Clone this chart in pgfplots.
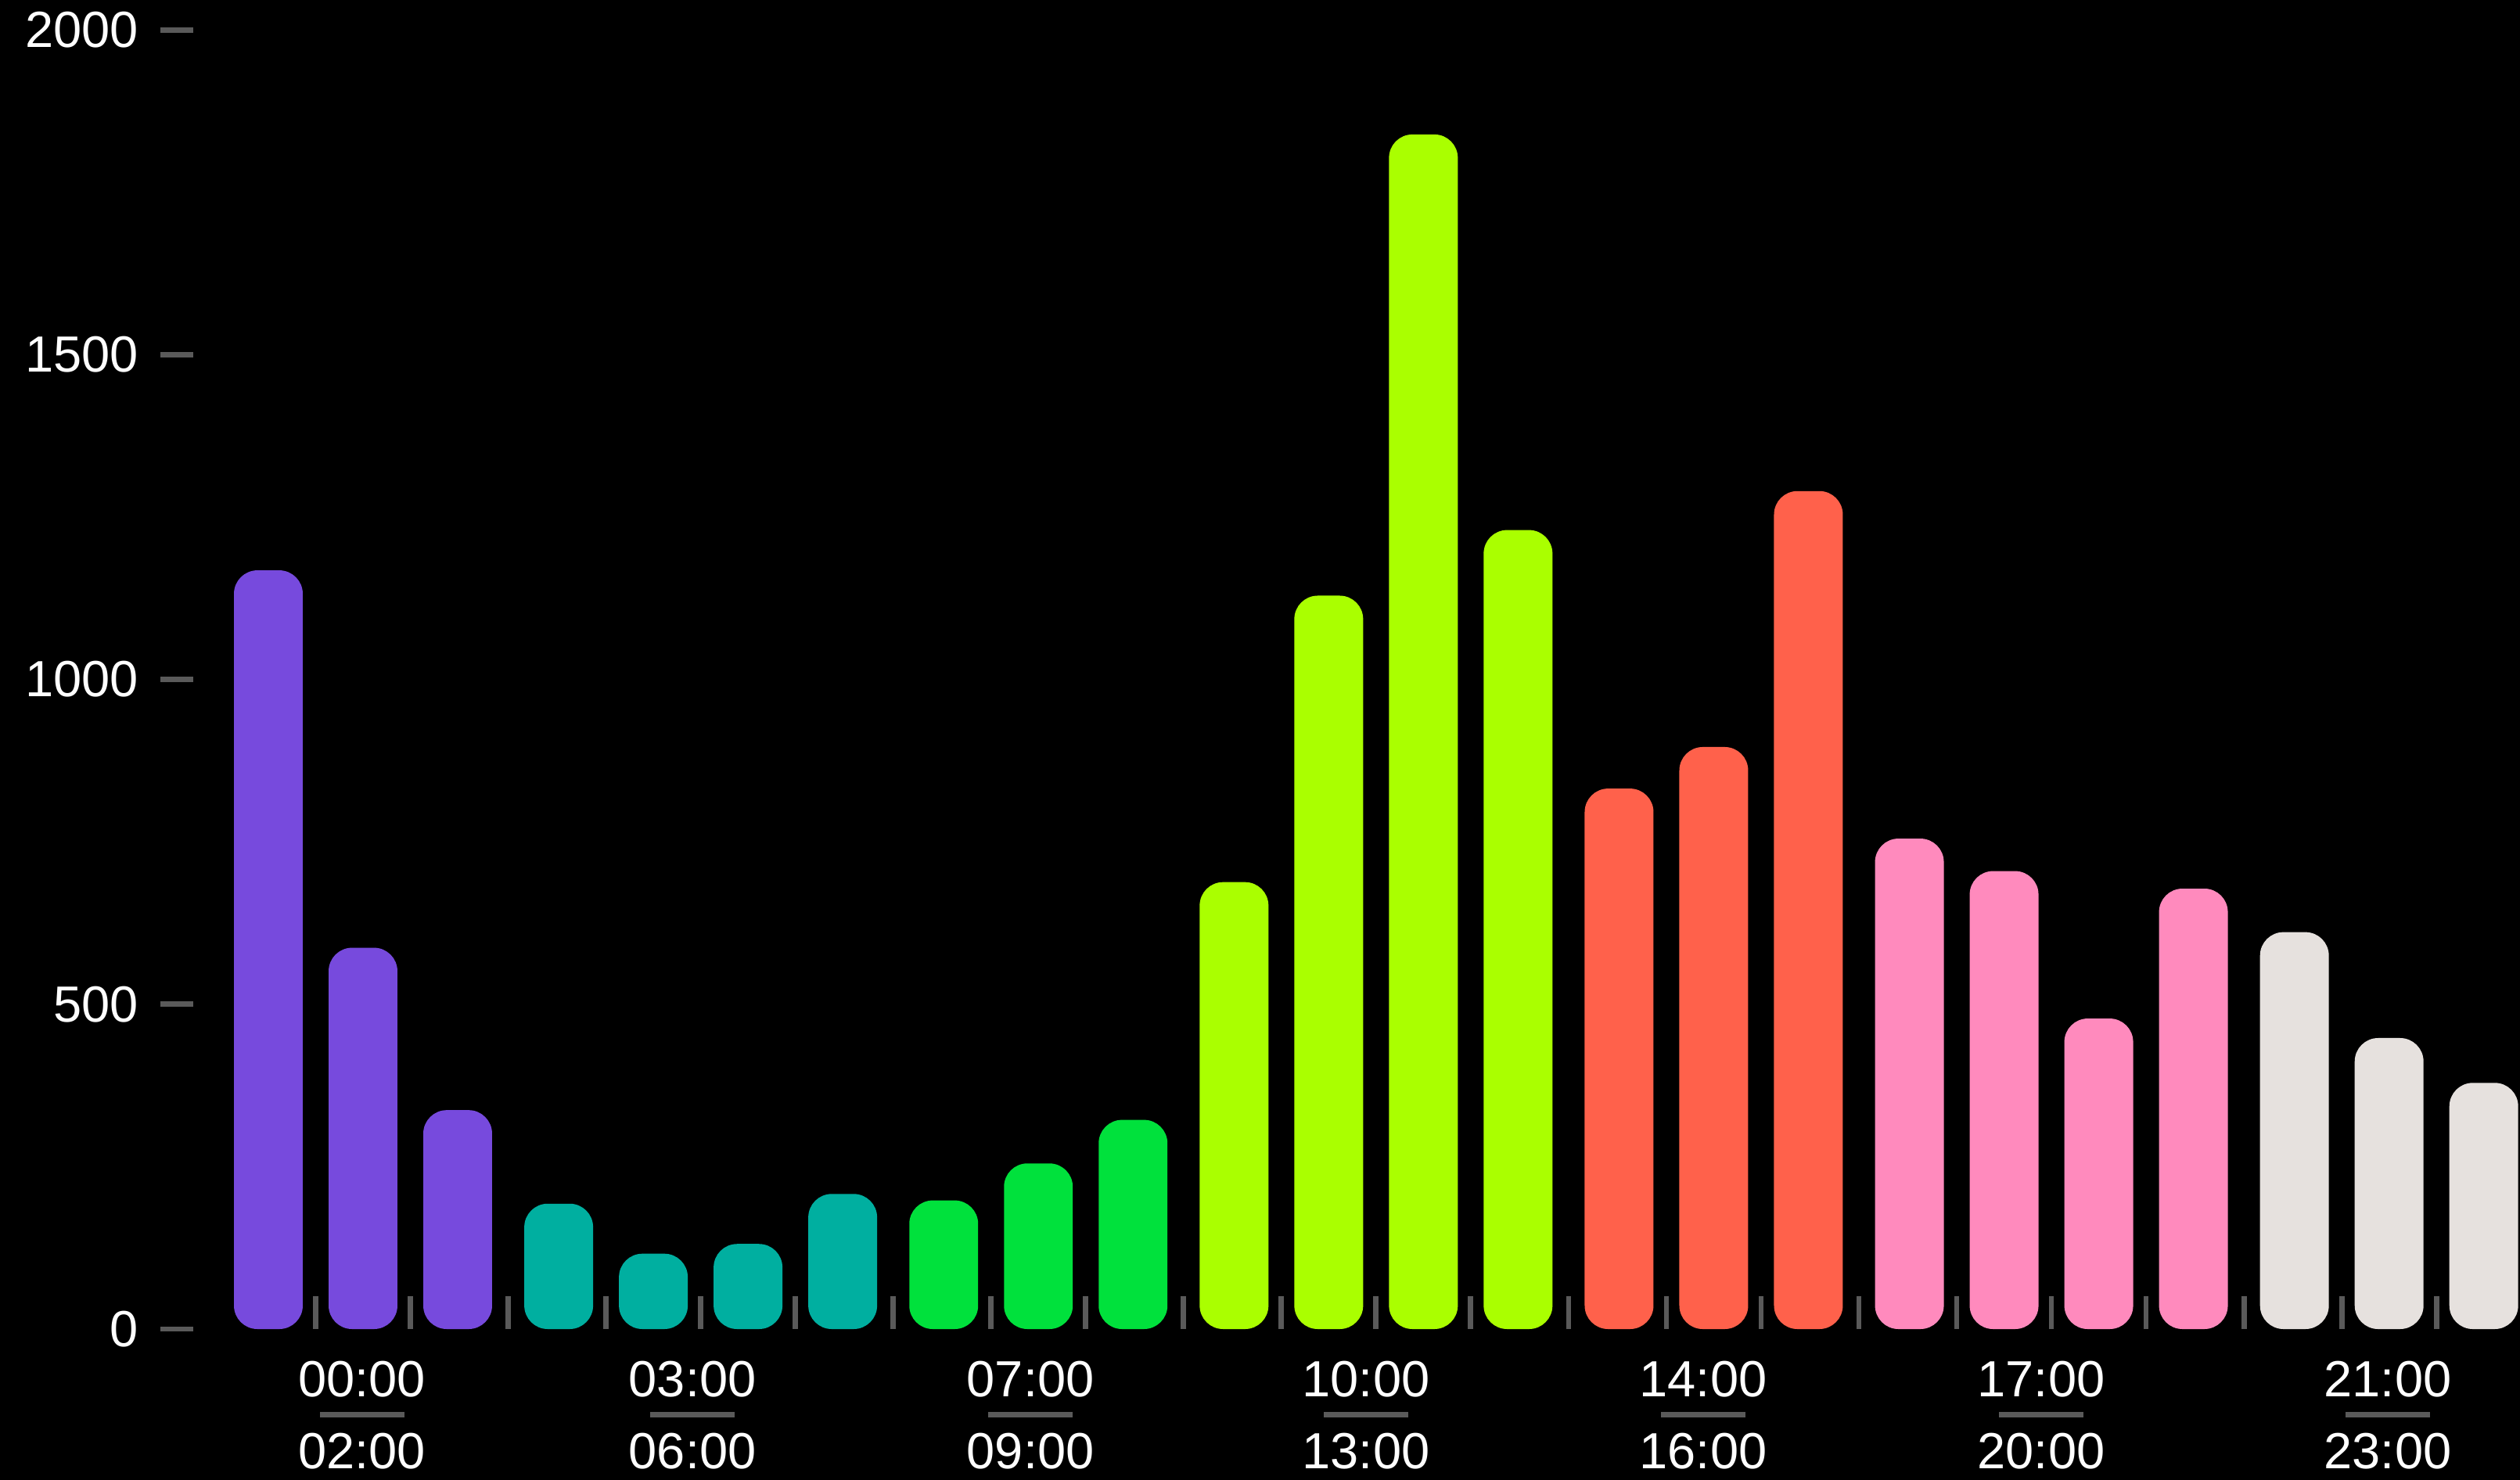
\documentclass[border=0pt]{standalone}
\usepackage{fontspec}
\setmainfont{Liberation Sans}
\usepackage{pgfplots}
\pgfplotsset{compat=1.18}
\definecolor{cPurple}{HTML}{774ADD}
\definecolor{cTeal}{HTML}{00AFA0}
\definecolor{cGreen}{HTML}{00E13C}
\definecolor{cLime}{HTML}{AAFF00}
\definecolor{cRed}{HTML}{FF614B}
\definecolor{cPink}{HTML}{FF8ABD}
\definecolor{cLight}{HTML}{E6E1DE}
\definecolor{sepgray}{HTML}{5A5A5A}
\newcommand{\lblfont}{\fontsize{13}{15}\selectfont}
\newcommand{\grouplabel}[3]{%
  \node[anchor=base, text=white, font=\lblfont] at ([yshift=-17.2pt]axis cs:#1,0) {#2};
  \draw[sepgray, line width=1.4pt] ([xshift=-10.8pt,yshift=-21.8pt]axis cs:#1,0) -- ([xshift=10.8pt,yshift=-21.8pt]axis cs:#1,0);
  \node[anchor=base, text=white, font=\lblfont] at ([yshift=-35.6pt]axis cs:#1,0) {#3};
}
\begin{document}
\begin{tikzpicture}
\fill[black] (-44pt,-41pt) rectangle (606pt,342pt);
\begin{axis}[
  at={(0,0)}, anchor=south west,
  scale only axis, width=603.2pt, height=339.8pt,
  xmin=-1.1405, xmax=23.785, ymin=0, ymax=2046,
  axis line style={draw=none},
  tick align=inside,
  major tick length=8.4pt,
  xtick={0.5,1.5,2.5335,3.567,4.567,5.567,6.6005,7.634,8.634,9.6675,10.701,11.701,12.701,13.7345,14.768,15.768,16.8015,17.835,18.835,19.835,20.8685,21.902,22.902},
  xticklabels={},
  ytick={0,500,1000,1500,2000},
  tick pos=left,
  tick style={sepgray, line width=1.35pt},
  yticklabel style={font=\lblfont, text=white, inner sep=0pt, xshift=-5.4pt},
  /pgf/number format/assume math mode=true,
  /pgf/number format/1000 sep={},
  clip=false,
  every axis plot/.append style={ybar, bar width=0.727, bar shift=0pt, draw=none, rounded corners=6pt},
]
\addplot[fill=cPurple] coordinates {(0,1168) (1,587) (2,337)};
\addplot[fill=cTeal] coordinates {(3.067,193) (4.067,116) (5.067,131) (6.067,208)};
\addplot[fill=cGreen] coordinates {(7.134,198) (8.134,255) (9.134,322)};
\addplot[fill=cLime] coordinates {(10.201,688) (11.201,1129) (12.201,1839) (13.201,1230)};
\addplot[fill=cRed] coordinates {(14.268,832) (15.268,896) (16.268,1290)};
\addplot[fill=cPink] coordinates {(17.335,755) (18.335,705) (19.335,478) (20.335,678)};
\addplot[fill=cLight] coordinates {(21.402,611) (22.402,448) (23.402,379)};

\grouplabel{0.99}{00:00}{02:00}
\grouplabel{4.48}{03:00}{06:00}
\grouplabel{8.05}{07:00}{09:00}
\grouplabel{11.595}{10:00}{13:00}
\grouplabel{15.157}{14:00}{16:00}
\grouplabel{18.727}{17:00}{20:00}
\grouplabel{22.388}{21:00}{23:00}
\end{axis}
\pgfresetboundingbox
\path[use as bounding box] (-41pt,-38.4pt) rectangle (603.2pt,339.8pt);
\end{tikzpicture}
\end{document}
